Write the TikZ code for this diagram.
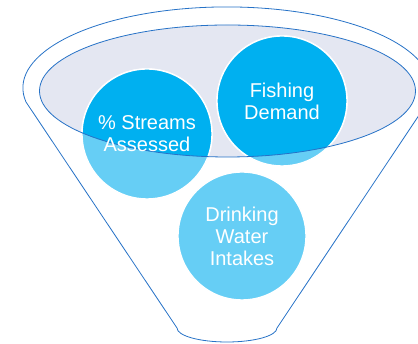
\documentclass[tikz,border=0pt]{standalone}
\usepackage{fontspec}
\setmainfont{Liberation Sans}
\definecolor{funnelblue}{RGB}{38,114,199}
\definecolor{rimfill}{RGB}{228,231,242}
\definecolor{darkbub}{RGB}{0,176,240}
\definecolor{lightbub}{RGB}{102,206,245}

\begin{document}
\begin{tikzpicture}
                [x=1pt, y=1pt,
                every text node part/.style={align=center},
                fsty/.style={draw=funnelblue, line width=0.8pt},
                bsty/.style={circle, draw=white, line width=1.4pt, fill=lightbub, minimum size=130pt, inner sep=0pt},
                tsty/.style={text=white, font=\fontsize{20}{22}\selectfont}]
                \useasboundingbox (0,0) rectangle (418,344);
                % funnel body
                \draw[fsty, fill=white] (26,242) arc[start angle=190, end angle=-10, x radius=204, y radius=81]
                    -- (277,16) arc[start angle=0, end angle=-180, x radius=50, y radius=14] -- cycle;
                % rim of the funnel
                \fill[rimfill] (227.5,253) ellipse [x radius=188, y radius=66];
                % bubbles
                \node[bsty] (streams) at (147,210) {};
                \node[bsty] (fishing) at (282,243) {};
                \node[bsty, minimum size=128pt] (drinking) at (242,108) {};
                % darker part inside the rim
                \begin{scope}
                    \clip (227.5,253) ellipse [x radius=188, y radius=66];
                    \fill[darkbub, draw=white, line width=1.4pt] (streams.center) circle (65);
                    \fill[darkbub, draw=white, line width=1.4pt] (fishing.center) circle (65);
                \end{scope}
                \draw[fsty] (227.5,253) ellipse [x radius=188, y radius=66];
                % labels
                \node[tsty] (streams-txt) at (streams.center) {\% Streams\\Assessed};
                \node[tsty] (fishing-txt) at (fishing.center) {Fishing\\Demand};
                \node[tsty] (drinking-txt) at (drinking.center) {Drinking\\Water\\Intakes};
            \end{tikzpicture}
\end{document}
